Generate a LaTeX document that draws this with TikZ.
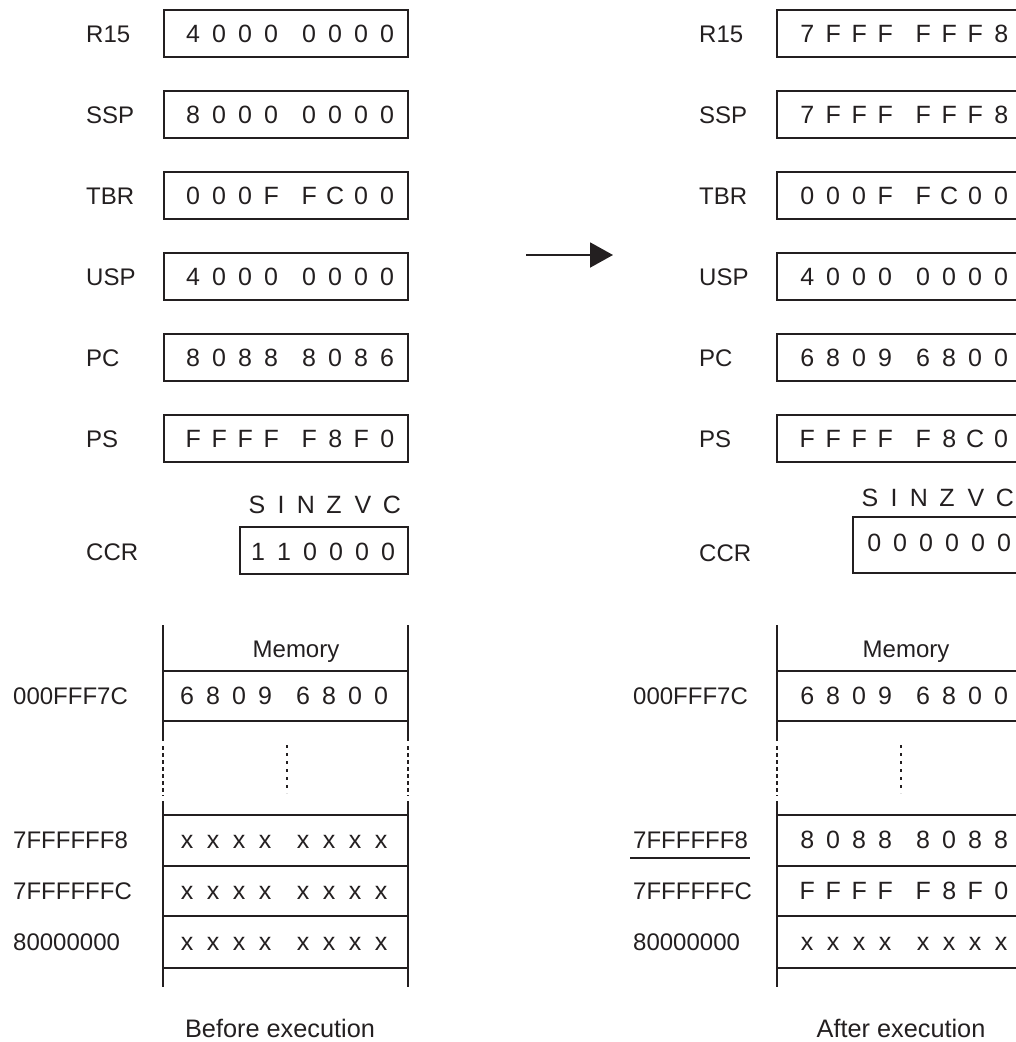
\documentclass[tikz,border=0pt]{standalone}
\usepackage{fontspec}
\setmainfont{Liberation Sans}
\usetikzlibrary{arrows.meta}
\definecolor{ink}{HTML}{231F20}
\newcommand\dg[1]{\makebox[26pt][c]{#1}}
\newcommand\hx[8]{{\fontsize{25}{28}\selectfont\dg{#1}\dg{#2}\dg{#3}\dg{#4}\hspace{12pt}\dg{#5}\dg{#6}\dg{#7}\dg{#8}}}
\newcommand\sx[6]{{\fontsize{25}{28}\selectfont\dg{#1}\dg{#2}\dg{#3}\dg{#4}\dg{#5}\dg{#6}}}
\begin{document}
\begin{tikzpicture}[x=1pt,y=-1pt,
  font=\fontsize{24}{28}\selectfont,
  lab/.style={anchor=west, inner sep=0pt, text height=17.5pt, text depth=0pt, text=ink},
  ctr/.style={anchor=center, inner sep=0pt, text height=17.5pt, text depth=0pt, text=ink},
  captext/.style={anchor=center, inner sep=0pt, text height=18pt, text depth=0pt, text=ink, font=\fontsize{25.3}{28}\selectfont},
  regbox/.style={draw=ink, line width=1.1pt, minimum width=244pt, minimum height=47pt, inner sep=0pt},
  ccrbox/.style={draw=ink, line width=1.1pt, minimum width=168pt, inner sep=0pt},
  memline/.style={draw=ink, line width=1.1pt},
  memdash/.style={draw=ink, line width=1.1pt, dash pattern=on 4pt off 3pt},
  memdots/.style={draw=ink, line width=2.6pt, dash pattern=on 2.6pt off 5.4pt}]
\path[use as bounding box, clip] (0,0) rectangle (1016,1042);

% ---------- registers ----------
\foreach \n/\y/\lv/\rv in {R15/33.5/40000000/7FFFFFF8,
                           SSP/114.5/80000000/7FFFFFF8,
                           TBR/195.5/000FFC00/000FFC00,
                           USP/276.5/40000000/40000000,
                           PC/357.5/80888086/68096800,
                           PS/438.5/FFFFF8F0/FFFFF8C0}{
  \node[regbox] (Lbox\n) at (286,\y) {};
  \node[lab] (Llab\n) at (86,\y) {\n};
  \node[lab] (Lval\n) at (180,\y) {\expandafter\hx\lv};
  \node[regbox] (Rbox\n) at (899,\y) {};
  \node[lab] (Rlab\n) at (699,\y) {\n};
  \node[lab] (Rval\n) at (794,\y) {\expandafter\hx\rv};
}

% ---------- CCR ----------
\foreach \c [count=\i from 0] in {S,I,N,Z,V,C}{
  \pgfmathsetmacro{\xx}{{257,281,306,334,363,392}[\i]}
  \node[ctr, font=\fontsize{25}{28}\selectfont] (Lflag\i) at (\xx,505) {\c};
  \node[ctr, font=\fontsize{25}{28}\selectfont] (Rflag\i) at (\xx+613,498) {\c};
}
\node[ccrbox, minimum height=47pt] (LboxCCR) at (324,550.5) {};
\node[lab] (LlabCCR) at (86,552) {CCR};
\node[lab] (LvalCCR) at (245,552) {\sx 110000};
\node[ccrbox, minimum height=56pt] (RboxCCR) at (937,545) {};
\node[lab] (RlabCCR) at (699,553) {CCR};
\node[lab] (RvalCCR) at (861,543) {\sx 000000};

% ---------- arrow ----------
\coordinate (arrA) at (526,255);
\coordinate (arrB) at (613,255);
\draw[draw=ink, line width=2pt, -{Triangle[length=23pt,width=25pt]}] (arrA) -- (arrB);

% ---------- memory (before) ----------
\foreach \xl in {163,408}{
  \draw[memline] (\xl,625) -- (\xl,741);
  \draw[memdash] (\xl,746) -- (\xl,796);
  \draw[memline] (\xl,801) -- (\xl,987);
}
\foreach \yy in {671,721,815,866,916,968}{
  \draw[memline] (163,\yy) -- (408,\yy);
}
\draw[memdots] (287,745) -- (287,793);
\node[ctr] (Lmem) at (296,649) {Memory};
\node[lab] (La1) at (13,696) {000FFF7C};
\node[lab] (Lv1) at (174,696) {\hx 68096800};
\node[lab] (La2) at (13,840) {7FFFFFF8};
\node[lab] (Lv2) at (174,840) {\hx xxxxxxxx};
\node[lab] (La3) at (13,891) {7FFFFFFC};
\node[lab] (Lv3) at (174,891) {\hx xxxxxxxx};
\node[lab] (La4) at (13,942) {80000000};
\node[lab] (Lv4) at (174,942) {\hx xxxxxxxx};
\node[captext] (Lcap) at (280,1028) {Before execution};

% ---------- memory (after) ----------
\foreach \xl in {777,1021}{
  \draw[memline] (\xl,625) -- (\xl,741);
  \draw[memdash] (\xl,746) -- (\xl,796);
  \draw[memline] (\xl,801) -- (\xl,987);
}
\foreach \yy in {671,721,815,866,916,968}{
  \draw[memline] (777,\yy) -- (1021,\yy);
}
\draw[memdots] (901,745) -- (901,793);
\node[ctr] (Rmem) at (906,649) {Memory};
\node[lab] (Ra1) at (633,696) {000FFF7C};
\node[lab] (Rv1) at (794,696) {\hx 68096800};
\node[lab] (Ra2) at (633,840) {7FFFFFF8};
\draw[memline] (630,858) -- (750,858);
\node[lab] (Rv2) at (794,840) {\hx 80888088};
\node[lab] (Ra3) at (633,891) {7FFFFFFC};
\node[lab] (Rv3) at (794,891) {\hx FFFFF8F0};
\node[lab] (Ra4) at (633,942) {80000000};
\node[lab] (Rv4) at (794,942) {\hx xxxxxxxx};
\node[captext] (Rcap) at (901,1028) {After execution};
\end{tikzpicture}
\end{document}
